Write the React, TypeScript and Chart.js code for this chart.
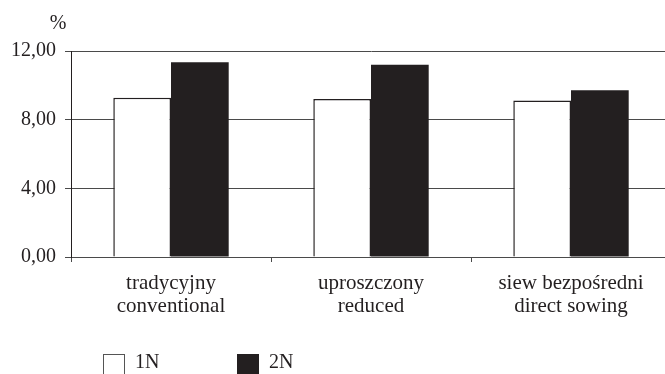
import React, { useEffect, useRef } from "react";
import { Chart, registerables } from "chart.js";

Chart.register(...registerables);

const categories: string[][] = [
  ["tradycyjny", "conventional"],
  ["uproszczony", "reduced"],
  ["siew bezpośredni", "direct sowing"],
];
const series1N: number[] = [9.28, 9.2, 9.11];
const series2N: number[] = [11.35, 11.2, 9.71];
const seriesNames: string[] = ["1N", "2N"];
const yUnit = "%";
const yMin = 0;
const yMax = 12;
const yStep = 4;

const FONT = '"Liberation Serif", "Times New Roman", serif';
const INK = "#231f20";
const GRID = "#4a4a4a";

const overlayPlugin = {
  id: "overlay",
  afterDraw(chart: any) {
    const ctx = chart.ctx;
    const area = chart.chartArea;
    ctx.save();
    ctx.fillStyle = INK;
    ctx.font = `20px ${FONT}`;
    ctx.textAlign = "center";
    ctx.textBaseline = "alphabetic";
    ctx.fillText(yUnit, area.left - 13, area.top - 22);

    // legend
    const items = chart.data.datasets.map((d: any, i: number) => ({
      label: d.label,
      fill: d.backgroundColor,
      stroke: d.borderColor,
      x: 103 + i * 134,
    }));
    const top = 354;
    items.forEach((it: any) => {
      ctx.fillStyle = it.fill;
      ctx.fillRect(it.x, top, 22, 22);
      ctx.strokeStyle = it.fill === "#ffffff" ? "#555" : it.fill;
      ctx.lineWidth = 1;
      ctx.strokeRect(it.x + 0.5, top + 0.5, 21, 21);
      ctx.fillStyle = INK;
      ctx.textAlign = "left";
      ctx.font = `20px ${FONT}`;
      ctx.fillText(it.label, it.x + 32, 368);
    });
    ctx.restore();
  },
};

export default function App() {
  const ref = useRef<HTMLCanvasElement | null>(null);
  useEffect(() => {
    if (!ref.current) return;
    const chart = new Chart(ref.current, {
      type: "bar",
      data: {
        labels: categories,
        datasets: [
          {
            label: seriesNames[0],
            data: series1N,
            backgroundColor: "#ffffff",
            borderColor: INK,
            borderWidth: 1.5,
            categoryPercentage: 0.577,
            barPercentage: 1.0,
          },
          {
            label: seriesNames[1],
            data: series2N,
            backgroundColor: INK,
            borderColor: INK,
            borderWidth: 0,
            categoryPercentage: 0.577,
            barPercentage: 1.0,
          },
        ],
      },
      options: {
        responsive: false,
        animation: false,
        layout: { padding: { top: 51, right: 9, left: 0, bottom: 0 } },
        plugins: {
          legend: { display: false },
          tooltip: { enabled: false },
          title: { display: false },
        },
        scales: {
          x: {
            offset: true,
            grid: {
              display: true,
              drawOnChartArea: false,
              drawTicks: true,
              tickLength: 5,
              offset: true,
              color: GRID,
            },
            border: { display: true, color: GRID },
            ticks: {
              color: INK,
              font: { family: FONT, size: 21, lineHeight: 1.08 },
              padding: 10,
              maxRotation: 0,
              autoSkip: false,
            },
            afterFit(scale: any) {
              scale.height = 117;
            },
          },
          y: {
            min: yMin,
            max: yMax,
            ticks: {
              stepSize: yStep,
              color: INK,
              font: { family: FONT, size: 20 },
              padding: 9,
              callback: (v: any) => Number(v).toFixed(2).replace(".", ","),
            },
            grid: { color: GRID, tickLength: 6, lineWidth: 1 },
            border: { display: true, color: INK },
            afterFit(scale: any) {
              scale.width = 71;
            },
          },
        },
      },
      plugins: [overlayPlugin],
    });
    return () => chart.destroy();
  }, []);
  return (
    <div
      style={{
        position: "absolute",
        left: 0,
        top: 0,
        width: 665,
        height: 374,
        overflow: "hidden",
        background: "#fff",
      }}
    >
      <canvas ref={ref} width={680} height={374} style={{ display: "block" }} />
    </div>
  );
}
